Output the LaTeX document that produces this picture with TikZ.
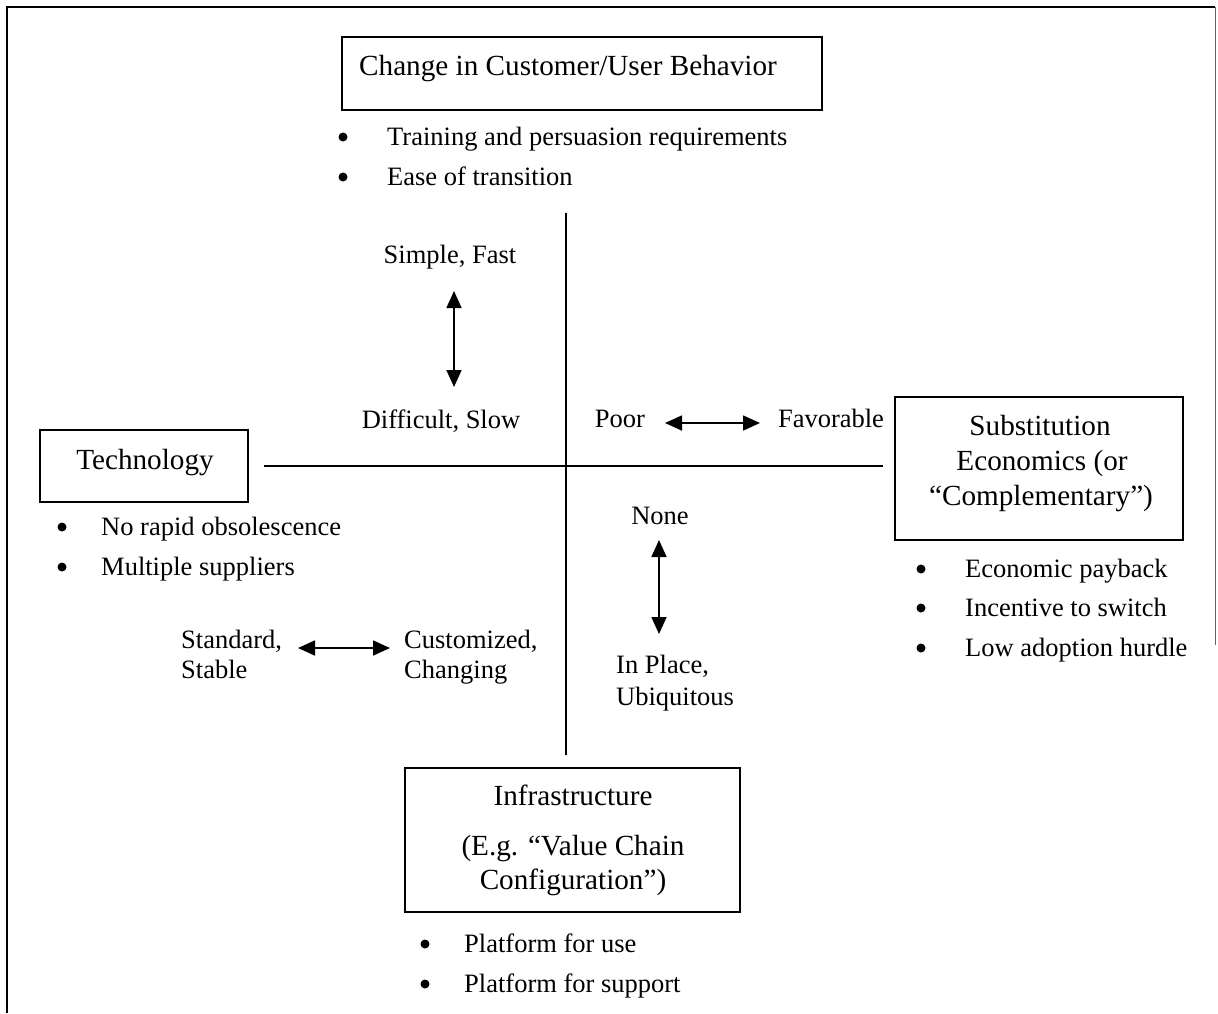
\documentclass[tikz,border=0pt]{standalone}
\usepackage{fontspec}
\setmainfont{Liberation Serif}
\usetikzlibrary{arrows.meta}

\begin{document}
\begin{tikzpicture}[x=1pt,y=-1pt,
  every node/.style={font=\fontsize{26.5}{33}\selectfont, inner sep=0pt,
    text height=0.7em, text depth=0.25em},
  box/.style={draw, line width=1.6pt, text height=, text depth=},
  txt/.style={anchor=center, yshift=-6pt},
  ltxt/.style={anchor=west, yshift=-6pt},
  boxcaption/.style={font=\fontsize{29.2}{35}\selectfont, yshift=-6.5pt},
  bul/.style={circle, fill, minimum size=9pt, text height=, text depth=},
  axis/.style={line width=1.7pt},
  dbl/.style={line width=1.7pt, {Triangle[length=17pt,width=15pt]}-{Triangle[length=17pt,width=15pt]}}
]
\useasboundingbox (0,0) rectangle (1218,1013);

% page frame, open at the bottom
\draw[line width=1.8pt] (7,1013) -- (7,7) -- (1215,7);
\draw[line width=1pt, black!60] (1215,7) -- (1215,645);

% ---- boxes ----
\node[box, minimum width=480pt, minimum height=73pt] (cust) at (582,73.5) {};
\node[box, minimum width=208pt, minimum height=72pt] (tech) at (144,466) {};
\node[box, minimum width=288pt, minimum height=143pt] (subs) at (1039,468.5) {};
\node[box, minimum width=335pt, minimum height=144pt] (infra) at (572.5,840) {};

% box captions
\node[anchor=west, boxcaption] (custT) at (359,67) {Change in Customer/User Behavior};
\node[boxcaption] (techT) at (145,461) {Technology};
\node[boxcaption] (subsT1) at (1040,427) {Substitution};
\node[boxcaption] (subsT2) at (1042,462) {Economics (or};
\node[boxcaption] (subsT3) at (1041,497) {``Complementary'')};
\node[boxcaption] (infraT1) at (573,797) {Infrastructure};
\node[boxcaption] (infraT2) at (573,847) {(E.g. ``Value Chain};
\node[boxcaption] (infraT3) at (573,881) {Configuration'')};

% ---- bullet lists ----
\node[bul] (cb1) at (343,137) {};
\node[ltxt] (ct1) at (387,137) {Training and persuasion requirements};
\node[bul] (cb2) at (343,177) {};
\node[ltxt] (ct2) at (387,177) {Ease of transition};

\node[bul] (tb1) at (62,527) {};
\node[ltxt] (tt1) at (101,527) {No rapid obsolescence};
\node[bul] (tb2) at (62,567) {};
\node[ltxt] (tt2) at (101,567) {Multiple suppliers};

\node[bul] (sb1) at (921,569) {};
\node[ltxt] (st1) at (965,569) {Economic payback};
\node[bul] (sb2) at (921,608) {};
\node[ltxt] (st2) at (965,608) {Incentive to switch};
\node[bul] (sb3) at (921,648) {};
\node[ltxt] (st3) at (965,648) {Low adoption hurdle};

\node[bul] (ib1) at (425,944) {};
\node[ltxt] (it1) at (464,944) {Platform for use};
\node[bul] (ib2) at (425,984) {};
\node[ltxt] (it2) at (464,984) {Platform for support};

% ---- axes ----
\coordinate (vtop) at (566,213);
\coordinate (vbot) at (566,755);
\draw[axis] (vtop) -- (vbot);
\draw[axis] ([xshift=15pt]tech.east) -- ([xshift=-11pt]tech.east -| subs.west);

% ---- scale labels and arrows ----
\node[txt] (simple) at (450,255) {Simple, Fast};
\node[txt] (difficult) at (441,420) {Difficult, Slow};
\coordinate (ua) at (454,291);
\coordinate (ub) at (454,387);
\draw[dbl] (ua) -- (ub);

\node[txt] (poor) at (620,419) {Poor};
\node[txt] (fav) at (831,419) {Favorable};
\coordinate (sa) at (665,423);
\coordinate (sbb) at (760,423);
\draw[dbl] (sa) -- (sbb);

\node[txt] (none) at (660,516) {None};
\node[ltxt] (inplace) at (616,665) {In Place,};
\node[ltxt] (ubiq) at (616,697) {Ubiquitous};
\coordinate (ia) at (659,540);
\coordinate (ibb) at (659,634);
\draw[dbl] (ia) -- (ibb);

\node[ltxt] (std1) at (181,640) {Standard,};
\node[ltxt] (std2) at (181,670) {Stable};
\node[ltxt] (cus1) at (404,640) {Customized,};
\node[ltxt] (cus2) at (404,670) {Changing};
\coordinate (ta) at (298,648);
\coordinate (tbb) at (390,648);
\draw[dbl] (ta) -- (tbb);
\end{tikzpicture}
\end{document}
